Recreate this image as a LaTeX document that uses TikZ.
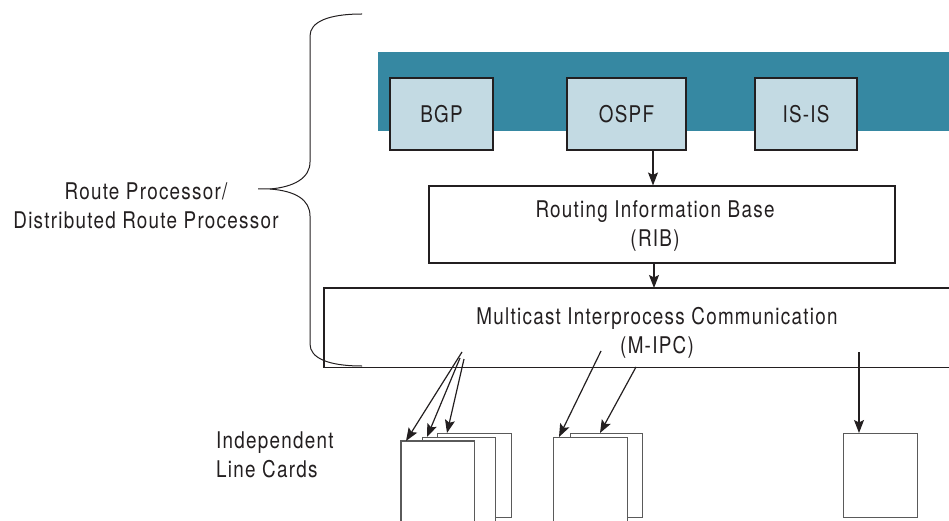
\documentclass[tikz,border=0pt]{standalone}
\usepackage{fontspec}
\setmainfont{TeX Gyre Heros}[FakeStretch=0.82,LetterSpace=5.5]
\usetikzlibrary{arrows.meta,calc}
\definecolor{band}{HTML}{3688A2}
\definecolor{proto}{HTML}{C3DAE3}
\definecolor{ink}{HTML}{231F20}
\definecolor{cardline}{HTML}{5A5A5A}
\begin{document}
\begin{tikzpicture}[x=1pt,y=-1pt,
  every node/.style={text=ink,font=\fontsize{23}{29.5}\selectfont},
  protobox/.style={draw=ink,line width=1.1pt,fill=proto,minimum height=72pt,inner sep=0pt},
  card/.style={draw=cardline,line width=1.3pt,fill=white,anchor=north west,inner sep=0pt},
  arr/.style={draw=ink,line width=1.2pt,-{Stealth[length=13pt,width=10pt,inset=2.5pt]}},
  label/.style={align=center,inner sep=0pt}]
\useasboundingbox (0,0) rectangle (949,521);

% protocol band
\fill[band] (378,52) rectangle (949,131);
\node[protobox,minimum width=103pt] (bgp)  at (441.5,114) {BGP};
\node[protobox,minimum width=119pt] (ospf) at (626.5,114) {OSPF};
\node[protobox,minimum width=102pt] (isis) at (806,114)   {IS-IS};

% routing information base
\node[draw=ink,line width=1.1pt,minimum width=466pt,minimum height=77pt,inner sep=0pt] (rib) at (662,224.5) {};
\node[label] (ribtext) at (655,226) {Routing Information Base\\(RIB)};

% multicast IPC, open to the right
\node[minimum width=626pt,minimum height=79pt,anchor=north west,inner sep=0pt] (mipc) at (324,288) {};
\draw[ink,line width=1.1pt] (mipc.north east) -- (mipc.north west) -- (mipc.south west) -- (mipc.south east);
\node[label] (mipctext) at (657,333) {Multicast Interprocess Communication\\(M-IPC)};

% internal flow
\draw[arr] ([xshift=26.5pt]ospf.south) -- ([xshift=26.5pt]ospf.south |- rib.north);
\draw[arr] ([xshift=-8pt]rib.south) -- ([xshift=-8pt]rib.south |- mipc.north);

% line cards
\node[card,minimum width=74pt,minimum height=84pt] (g1c) at (437,433) {};
\node[card,minimum width=73pt,minimum height=83.5pt] (g1b) at (422,437) {};
\node[fill=white,anchor=north west,inner sep=0pt,minimum width=73pt,minimum height=81pt] (g1a) at (401,441) {};
\draw[cardline,line width=1.3pt] (g1a.south west) -- (g1a.north west) -- (g1a.north east) -- (g1a.south east);
\node[card,minimum width=72pt,minimum height=84pt] (g2b) at (570,433) {};
\node[card,minimum width=74pt,minimum height=83.5pt] (g2a) at (553,437) {};
\node[card,minimum width=74pt,minimum height=84pt] (g3) at (843,433) {};

% multicast fan-out
\coordinate (s1) at (462,352);
\coordinate (s2) at (460,358);
\coordinate (s3) at (464,359);
\coordinate (s4) at (601,351);
\coordinate (s5) at (636,367);
\coordinate (s6) at (859,352);
\draw[arr] (s1) -- ([xshift=5pt]g1a.north west);
\draw[arr] (s2) -- ([xshift=5pt]g1b.north west);
\draw[arr] (s3) -- ([xshift=10pt]g1c.north west);
\draw[arr] (s4) -- ([xshift=6pt]g2a.north west);
\draw[arr] (s5) -- ([xshift=30pt]g2b.north west);
\draw[arr] (s6) -- ([xshift=16pt]g3.north west);

% brace
\coordinate (tip) at (258,189);
\draw[ink,line width=1pt] (362,14) .. controls (328,14) and (310,22) .. (310,36) -- (310,162)
  .. controls (310,178) and (294,187) .. (270,189) -- (tip);
\draw[ink,line width=1pt] (270,189) .. controls (296,191) and (310,200) .. (310,216) -- (310,344)
  .. controls (310,358) and (328,366) .. (362,366);
\node[label] (rp) at (146,206) {Route Processor/\\Distributed Route Processor};

\node[align=left,inner sep=0pt,anchor=west] (lc) at (216,455) {Independent\\Line Cards};
\end{tikzpicture}
\end{document}
